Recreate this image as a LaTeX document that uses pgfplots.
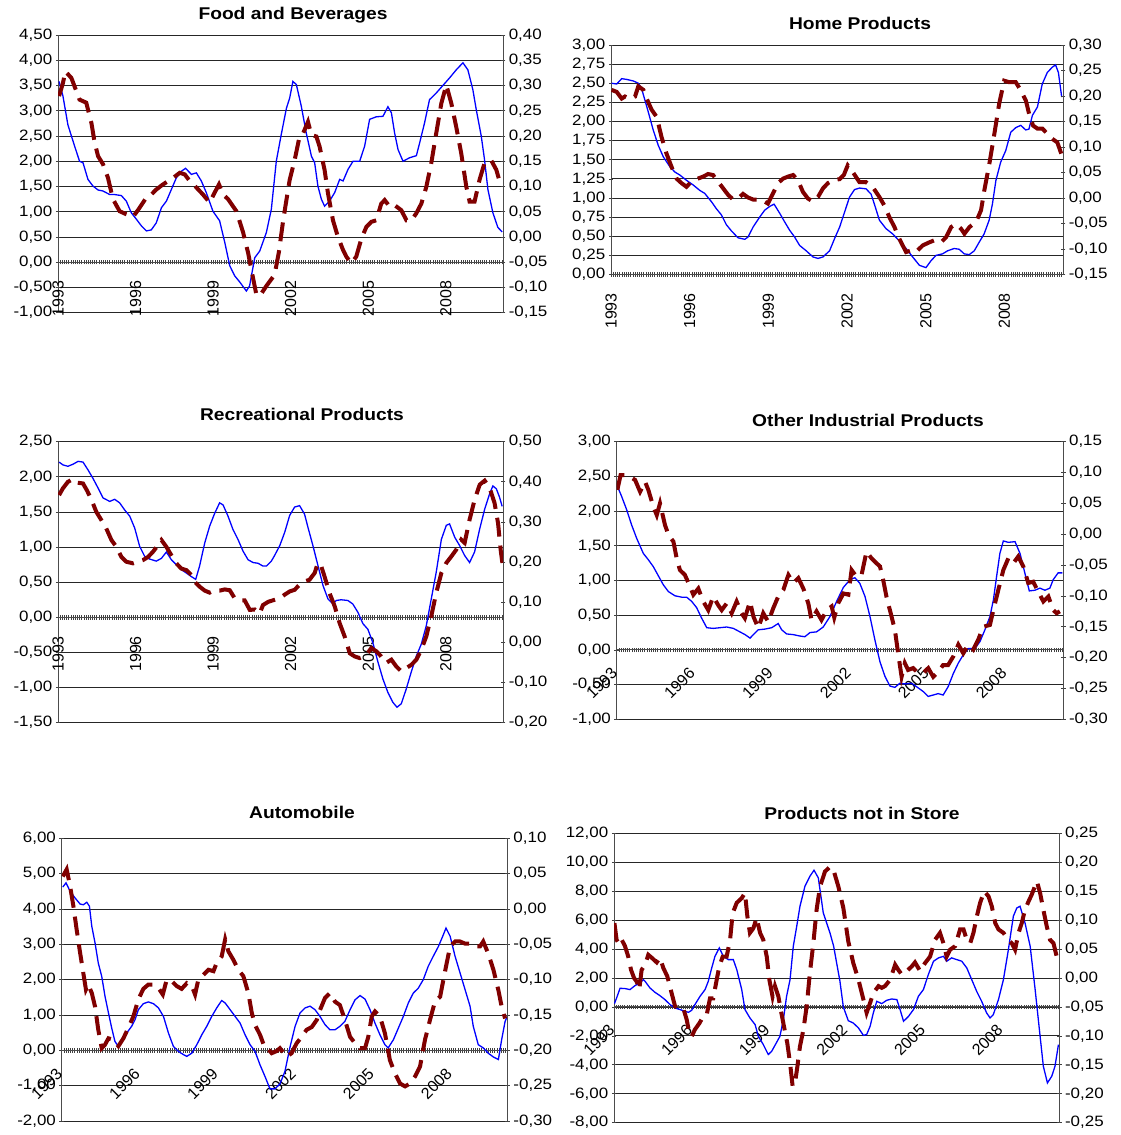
\documentclass[border=0pt]{standalone}
\usepackage{fontspec}
\setmainfont{Liberation Sans}[FakeStretch=1.13]
\newfontfamily\xlabfamily{Liberation Sans}
\usepackage{pgfplots}
\pgfplotsset{compat=1.18}
\definecolor{serblue}{RGB}{0,0,255}
\definecolor{serred}{RGB}{128,0,0}
\newcommand\ticklab{\fontsize{15}{17}\selectfont}
\newcommand\xlab{\xlabfamily\fontsize{16}{18}\selectfont}
\newcommand\ttl{\fontsize{17}{20}\selectfont\bfseries}
\pgfplotsset{
  base/.style={
    scale only axis, anchor=south west,
    /pgf/number format/.cd, fixed, fixed zerofill, precision=2, use comma, assume math mode=true, /pgfplots/.cd,
    tick align=outside, major tick length=4.5pt, minor tick length=4.5pt,
    tick style={black!75, line width=0.7pt},
    yticklabel style={font=\ticklab},
    axis line style={black!70, line width=1pt},
  },
  lefta/.style={
    base,
    axis y line=left, axis x line=middle,
    hide obscured x ticks=false, hide obscured y ticks=false,
    ymajorgrids, major grid style={black!85, line width=0.9pt},
    xtick={0,36,72,108,144,180}, xticklabels={1993,1996,1999,2002,2005,2008},
    minor xtick={0,1,...,206},
    every inner x axis line/.append style={-},
    every outer y axis line/.append style={-},
    x axis line style={-}, y axis line style={-},
  },
  righta/.style={
    base,
    axis y line=right, axis x line=none, xtick=\empty,
    every outer y axis line/.append style={-},
    y axis line style={-},
  },
  vlab/.style={xticklabel shift=13pt, xticklabel style={font=\xlab, rotate=90, anchor=east}},
  dlab/.style={xticklabel shift=16pt, xticklabel style={font=\xlab, rotate=45, anchor=east}},
  blueline/.style={serblue, line width=1.3pt, no markers},
  redline/.style={serred, line width=4pt, dash pattern=on 19pt off 9pt, no markers},
}
\begin{document}
\begin{tikzpicture}
\useasboundingbox (0,0) rectangle (1121pt,-1135pt);
% ---------------- Panel 1: Food and Beverages
\begin{axis}[lefta, vlab, at={(58pt,-312.7pt)}, width=445pt, height=277.7pt,
  xmin=0, xmax=206.5, ymin=-1, ymax=4.5, ytick={-1,-0.5,...,4.5}]
\addplot[blueline] coordinates {(0.5,3.58) (2.3,3.29) (4.6,2.72) (7.7,2.30) (10,2.00) (11.6,1.97) (13.9,1.64) (16.2,1.51) (18.6,1.43) (20.9,1.41) (24,1.34) (26.3,1.34) (29.4,1.32) (31.7,1.21) (34,0.98) (36.4,0.85) (38.7,0.72) (41,0.62) (43.3,0.64) (45.6,0.78) (48,1.08) (50.3,1.21) (52.6,1.44) (54.9,1.67) (57.2,1.80) (59.2,1.86) (61.9,1.74) (64.2,1.77) (66.5,1.61) (68.8,1.38) (71.9,1.01) (75,0.82) (77.4,0.39) (79.7,-0.07) (82,-0.27) (84.3,-0.39) (87.4,-0.57) (88.9,-0.47) (91.3,0.09) (93.6,0.22) (96.7,0.59) (99,1.05) (101.3,2.0) (103.6,2.53) (106,3.05) (107.5,3.25) (109,3.58) (110.6,3.52) (112.9,3.09) (115.2,2.56) (117.6,2.10) (119.1,1.97) (120.6,1.51) (122.2,1.25) (123.7,1.11) (126,1.21) (128.4,1.38) (130.7,1.64) (132.3,1.61) (134.6,1.84) (136.9,2.00) (140,2.00) (142.3,2.30) (144.6,2.83) (147.7,2.88) (150.8,2.89) (153.1,3.08) (154.7,2.96) (156.2,2.56) (157.8,2.23) (160.1,2.00) (163.2,2.07) (166.3,2.11) (167.8,2.36) (170.1,2.76) (172.4,3.22) (175.5,3.35) (178.6,3.50) (181.7,3.65) (184.8,3.81) (187.9,3.95) (190.2,3.81) (192.5,3.42) (194.1,3.02) (196.4,2.50) (197.9,2.04) (199.5,1.44) (201.8,0.98) (204.1,0.69) (206.1,0.60)};
\end{axis}
\begin{axis}[righta, at={(58pt,-312.7pt)}, width=445pt, height=277.7pt,
  xmin=0, xmax=206.5, ymin=-0.15, ymax=0.40, ytick={-0.15,-0.1,-0.05,0,0.05,0.1,0.15,0.2,0.25,0.3,0.35,0.4}]
\addplot[redline] coordinates {(0.5,0.279) (2.3,0.305) (3.4,0.328) (6.2,0.315) (8.5,0.289) (10,0.272) (13.1,0.266) (15.5,0.226) (17,0.187) (18.6,0.160) (20.9,0.144) (23.2,0.117) (25.5,0.075) (28.6,0.051) (31.7,0.045) (34.8,0.040) (37.1,0.053) (41,0.078) (43.3,0.084) (45.6,0.094) (48.7,0.104) (53.4,0.117) (56.5,0.127) (58.8,0.124) (61.1,0.111) (64.2,0.098) (67.3,0.084) (70.4,0.068) (72.7,0.088) (74.7,0.104) (76.6,0.084) (78.9,0.075) (82.8,0.051) (85.9,0.009) (88.2,-0.031) (89.7,-0.064) (92,-0.113) (93.6,-0.117) (96.7,-0.097) (100.5,-0.075) (102.5,-0.03) (104.4,0.03) (105.5,0.06) (107.5,0.113) (109.8,0.152) (112.1,0.199) (113.7,0.205) (116,0.228) (117.6,0.202) (119.9,0.199) (121.4,0.179) (123.7,0.133) (125.3,0.086) (127.6,0.033) (129.9,0.000) (132.3,-0.026) (133.8,-0.039) (136.1,-0.052) (138.4,-0.039) (140.8,-0.003) (143.1,0.020) (145.4,0.030) (147.7,0.033) (150,0.066) (151.6,0.073) (153.9,0.060) (156.2,0.063) (159.3,0.053) (161.7,0.033) (164,0.033) (166.3,0.047) (168.6,0.066) (170.9,0.099) (173.2,0.146) (175.5,0.205) (177.9,0.265) (180.2,0.301) (182.5,0.265) (184.8,0.218) (187.1,0.166) (189.5,0.099) (191,0.070) (193.3,0.070) (195.6,0.113) (197.9,0.146) (201,0.152) (203.4,0.133) (205.2,0.106)};
\end{axis}
\node[font=\ttl] at (293pt,-15pt) {Food and Beverages};
% ---------------- Panel 2: Home Products
\begin{axis}[lefta, vlab, at={(611pt,-274.5pt)}, width=452pt, height=229.5pt,
  xmin=0, xmax=206.8, ymin=0, ymax=3, ytick={0,0.25,...,3}]
\addplot[blueline] coordinates {(0.3,2.50) (2.6,2.49) (4.9,2.56) (7.2,2.55) (10.2,2.53) (12.5,2.50) (14,2.43) (15.5,2.28) (17,2.13) (19.3,1.89) (21.6,1.69) (23.9,1.54) (26.9,1.41) (29.2,1.34) (31.5,1.30) (34.6,1.23) (37.6,1.17) (40.6,1.10) (42.9,1.06) (46,0.95) (48.2,0.86) (50.5,0.78) (52.8,0.65) (55.1,0.57) (58.1,0.48) (61.2,0.46) (62.7,0.49) (65,0.62) (68,0.75) (70.3,0.84) (72.6,0.89) (74.6,0.92) (77.2,0.80) (79.4,0.69) (81.7,0.58) (84,0.49) (86.3,0.38) (89.3,0.31) (92.4,0.23) (94.7,0.21) (97,0.23) (100,0.31) (102.3,0.47) (104.6,0.62) (106.8,0.81) (109.1,1.01) (111.4,1.11) (113.7,1.13) (116.7,1.12) (119,1.05) (120.5,0.92) (122.8,0.71) (125.8,0.60) (128.9,0.53) (131.9,0.44) (135,0.34) (138,0.23) (141.1,0.12) (144.1,0.09) (146.4,0.18) (148.7,0.25) (151.7,0.27) (154,0.31) (157,0.34) (159.3,0.33) (161.6,0.27) (163.9,0.26) (166.2,0.31) (168.4,0.42) (170.7,0.53) (173,0.71) (174.5,0.92) (176.1,1.23) (178.3,1.47) (180.6,1.62) (182.9,1.86) (185.2,1.92) (187.5,1.95) (189.7,1.89) (191.2,1.90) (192.8,2.08) (195.1,2.19) (197.3,2.49) (199.6,2.64) (201.9,2.71) (203.4,2.74) (204.7,2.64) (206.2,2.32)};
\end{axis}
\begin{axis}[righta, at={(611pt,-274.5pt)}, width=452pt, height=229.5pt,
  xmin=0, xmax=206.8, ymin=-0.15, ymax=0.30, ytick={-0.15,-0.1,-0.05,0,0.05,0.1,0.15,0.2,0.25,0.3}]
\addplot[redline] coordinates {(0.3,0.212) (2.6,0.208) (4.9,0.195) (6.4,0.199) (8.7,0.194) (11,0.199) (12.5,0.219) (14.8,0.212) (16.3,0.195) (18.6,0.173) (20.9,0.159) (23.1,0.120) (25.4,0.087) (27.7,0.061) (30,0.038) (32.3,0.029) (34.5,0.022) (36.8,0.032) (39.1,0.037) (42.2,0.042) (44.4,0.047) (46.7,0.045) (49,0.032) (51.3,0.019) (53.6,0.006) (55.9,-0.003) (58.1,-0.001) (60.4,0.008) (62.7,0.001) (65,-0.003) (68,-0.003) (70.3,-0.007) (71.8,-0.011) (74.1,0.009) (76.4,0.029) (78.7,0.038) (81,0.042) (83.3,0.045) (85.5,0.035) (87.8,0.012) (90.1,-0.001) (92.4,-0.007) (94.7,0.002) (97,0.019) (99.2,0.029) (101.5,0.035) (104.6,0.037) (106.5,0.045) (108.3,0.064) (110.6,0.051) (113.7,0.031) (116.7,0.031) (119.8,0.021) (122.8,0.002) (125.1,-0.015) (127.4,-0.038) (129.7,-0.057) (131.9,-0.080) (135,-0.106) (137.3,-0.103) (139.5,-0.106) (142.6,-0.093) (145.6,-0.087) (147.9,-0.083) (151,-0.087) (153.3,-0.077) (155.6,-0.057) (157.8,-0.051) (160.1,-0.060) (161.7,-0.070) (164,-0.057) (167,-0.047) (169.3,-0.024) (170.8,0.015) (173.1,0.067) (175.4,0.126) (177.6,0.185) (179.9,0.230) (182.2,0.227) (185.2,0.227) (187.5,0.211) (189.8,0.191) (191.3,0.165) (193.1,0.142) (195.1,0.136) (197.4,0.136) (199.6,0.126) (201.9,0.116) (204.2,0.109) (206,0.087)};
\end{axis}
\node[font=\ttl] at (860pt,-23pt) {Home Products};
% ---------------- Panel 3: Recreational Products
\begin{axis}[lefta, vlab, at={(58pt,-722.7pt)}, width=445pt, height=281pt,
  xmin=0, xmax=206.5, ymin=-1.5, ymax=2.5, ytick={-1.5,-1,...,2.5}]
\addplot[blueline] coordinates {(0.5,2.21) (2.3,2.17) (4.6,2.15) (7,2.18) (9.3,2.22) (11.6,2.21) (13.9,2.10) (16.2,1.98) (18.6,1.84) (20.9,1.70) (24,1.65) (26.3,1.68) (28.6,1.63) (30.9,1.53) (33.3,1.44) (35.6,1.27) (37.9,1.01) (40.2,0.87) (42.5,0.83) (45.6,0.80) (48,0.84) (50.3,0.93) (52.6,0.82) (54.9,0.75) (57.2,0.68) (59.6,0.63) (61.9,0.58) (63.9,0.54) (65.7,0.73) (68.1,1.06) (70.4,1.30) (72.7,1.48) (75,1.63) (76.6,1.60) (78.9,1.44) (81.2,1.25) (83.5,1.11) (85.9,0.94) (88.2,0.82) (90.5,0.78) (92.8,0.77) (95.1,0.73) (96.7,0.73) (99,0.80) (100.5,0.88) (102.9,1.02) (105.2,1.21) (107.5,1.45) (109.8,1.57) (112.1,1.59) (114.4,1.47) (116,1.28) (118.3,1.02) (120.6,0.74) (123,0.45) (125.3,0.26) (127.6,0.19) (129.1,0.24) (131.4,0.25) (134.5,0.24) (136.8,0.19) (139.2,0.07) (141.5,-0.09) (143.8,-0.17) (146.1,-0.36) (148.5,-0.64) (150.8,-0.88) (153.1,-1.07) (155.4,-1.21) (157.3,-1.28) (159.3,-1.23) (161.6,-1.02) (163.9,-0.78) (166.3,-0.55) (168.6,-0.38) (170.9,-0.12) (173.2,0.26) (175.5,0.64) (177.9,1.11) (180.2,1.31) (181.7,1.33) (184.1,1.14) (186.4,1.02) (188.7,0.88) (191,0.78) (193.3,0.93) (195.7,1.26) (198,1.54) (200.3,1.76) (201.8,1.87) (203.4,1.83) (204.9,1.71) (206.1,1.58)};
\end{axis}
\begin{axis}[righta, at={(58pt,-722.7pt)}, width=445pt, height=281pt,
  xmin=0, xmax=206.5, ymin=-0.2, ymax=0.5, ytick={-0.2,-0.1,0,0.1,0.2,0.3,0.4,0.5}]
\addplot[redline] coordinates {(0.5,0.367) (2.3,0.384) (4.6,0.400) (7,0.407) (8.8,0.398) (11.6,0.396) (13.5,0.378) (15.5,0.356) (17.8,0.325) (20.1,0.305) (22.4,0.284) (24.8,0.255) (27.1,0.238) (29.4,0.213) (31.7,0.201) (34.8,0.197) (37.1,0.201) (39.4,0.205) (41.8,0.213) (44.1,0.226) (46.4,0.242) (48,0.255) (50.3,0.238) (52.6,0.217) (54.9,0.197) (57.2,0.184) (59.6,0.180) (61.9,0.168) (63.4,0.151) (65.7,0.139) (68.1,0.129) (70.4,0.124) (72.7,0.130) (75,0.129) (77.4,0.132) (79.7,0.130) (82,0.110) (84.3,0.105) (86.6,0.105) (89,0.081) (91.3,0.082) (93.6,0.072) (95.1,0.093) (97.5,0.101) (99.8,0.105) (102.9,0.110) (105.2,0.119) (107.5,0.127) (109.8,0.131) (112.1,0.144) (114.4,0.152) (116.7,0.156) (119.1,0.173) (120.6,0.198) (122.2,0.189) (123.7,0.164) (126,0.123) (128.4,0.090) (130.7,0.048) (133,0.015) (135.4,-0.027) (137.7,-0.035) (140,-0.039) (143.1,-0.031) (145.4,-0.014) (147.7,-0.022) (150,-0.035) (152.3,-0.051) (154.7,-0.043) (157,-0.060) (159.3,-0.072) (161.6,-0.064) (163.9,-0.056) (166.3,-0.043) (168.6,-0.018) (170.9,0.015) (173.2,0.065) (175.5,0.123) (177.9,0.173) (180.2,0.198) (182.5,0.214) (184.8,0.231) (187.1,0.256) (188.7,0.248) (191,0.306) (193.3,0.355) (195.7,0.393) (198,0.403) (200.3,0.385) (202.6,0.347) (204.2,0.297) (205.4,0.231) (206.2,0.198)};
\end{axis}
\node[font=\ttl] at (302pt,-414pt) {Recreational Products};
% ---------------- Panel 4: Other Industrial Products
\begin{axis}[lefta, dlab, at={(616.7pt,-719.3pt)}, width=446.6pt, height=277.6pt,
  xmin=0, xmax=206.3, ymin=-1, ymax=3, ytick={-1,-0.5,...,3}]
\addplot[blueline] coordinates {(0.3,2.36) (2.3,2.21) (4.6,2.02) (6.9,1.80) (9.2,1.61) (12.3,1.39) (14.6,1.30) (16.9,1.20) (19.2,1.07) (21.5,0.94) (23.9,0.84) (26.9,0.78) (30,0.76) (32.3,0.76) (34.6,0.70) (36.9,0.61) (39.2,0.46) (41.6,0.32) (44.6,0.31) (47.7,0.32) (50.8,0.33) (53.9,0.31) (56.9,0.26) (59.3,0.22) (61.6,0.17) (63.1,0.22) (65.4,0.29) (68.5,0.30) (71.6,0.32) (74.6,0.38) (76.2,0.29) (78.5,0.23) (81.6,0.22) (84.6,0.20) (86.9,0.19) (89.3,0.25) (92.3,0.26) (95.4,0.33) (98.5,0.48) (101.6,0.70) (104.7,0.90) (107.7,1.01) (110,1.04) (112.3,0.96) (114.7,0.77) (117,0.48) (119.3,0.14) (121.6,-0.17) (123.9,-0.38) (126.2,-0.52) (128.5,-0.54) (130.8,-0.48) (133.1,-0.49) (136.2,-0.48) (138.5,-0.53) (141.6,-0.60) (143.9,-0.67) (146.2,-0.65) (148.5,-0.63) (150.8,-0.65) (153.1,-0.53) (155.5,-0.34) (157.8,-0.19) (160.1,-0.07) (162.4,0.02) (165.5,0.02) (167.8,0.12) (170.1,0.29) (172.4,0.48) (174,0.72) (175.5,1.06) (177,1.39) (178.6,1.57) (180.9,1.55) (184,1.56) (186.3,1.39) (188.6,1.10) (190.6,0.85) (193.2,0.86) (195.5,0.89) (197.8,0.86) (200.1,0.89) (201.6,1.01) (203.9,1.11) (205.9,1.11)};
\end{axis}
\begin{axis}[righta, at={(616.7pt,-719.3pt)}, width=446.6pt, height=277.6pt,
  xmin=0, xmax=206.3, ymin=-0.30, ymax=0.15, ytick={-0.3,-0.25,-0.2,-0.15,-0.1,-0.05,0,0.05,0.1,0.15}]
\addplot[redline] coordinates {(0.3,0.072) (1.8,0.096) (3.8,0.096) (6.2,0.093) (8.5,0.088) (10.8,0.069) (13.1,0.085) (14.6,0.072) (16.9,0.045) (18.5,0.031) (20,0.050) (22.3,0.015) (23.9,-0.001) (26.2,-0.012) (27.7,-0.039) (29.2,-0.058) (31.5,-0.066) (33.9,-0.085) (35.4,-0.098) (37.7,-0.088) (40,-0.109) (42.3,-0.123) (44.6,-0.101) (46.9,-0.115) (48.5,-0.123) (50.8,-0.112) (53.1,-0.128) (55.4,-0.109) (57.7,-0.128) (59.2,-0.136) (61.6,-0.109) (63.1,-0.133) (65.4,-0.152) (67.7,-0.128) (70,-0.142) (72.3,-0.120) (74.6,-0.101) (77,-0.090) (79.3,-0.066) (81.6,-0.079) (83.9,-0.071) (86.2,-0.088) (88.5,-0.112) (90,-0.139) (92.3,-0.125) (94.6,-0.139) (97,-0.123) (99.3,-0.117) (100.5,-0.135) (102.3,-0.112) (104.7,-0.096) (107,-0.098) (108.5,-0.058) (110.8,-0.069) (113.1,-0.066) (115.4,-0.028) (117.7,-0.039) (120,-0.047) (121.6,-0.052) (123.1,-0.074) (124.6,-0.101) (126.2,-0.123) (128.5,-0.155) (130,-0.193) (131.6,-0.231) (133.1,-0.209) (134.6,-0.220) (136.9,-0.217) (139.3,-0.225) (141.6,-0.225) (143.9,-0.217) (146.2,-0.231) (148.5,-0.223) (150.8,-0.212) (153.1,-0.212) (155.5,-0.198) (157.8,-0.179) (160.1,-0.193) (162.4,-0.179) (164.7,-0.187) (167,-0.171) (169.3,-0.150) (172.4,-0.147) (174,-0.123) (176.3,-0.090) (178.6,-0.058) (180.9,-0.039) (183.2,-0.047) (185.5,-0.036) (187.8,-0.052) (190.1,-0.079) (192.4,-0.077) (194.7,-0.093) (197.1,-0.109) (199.4,-0.101) (201.7,-0.123) (203.2,-0.128) (204.7,-0.125)};
\end{axis}
\node[font=\ttl] at (868pt,-420pt) {Other Industrial Products};
% ---------------- Panel 5: Automobile
\begin{scope}
\clip (0pt,-790pt) rectangle (556pt,-1135pt);
\begin{axis}[lefta, dlab, at={(61.7pt,-1121pt)}, width=446pt, height=282.7pt,
  xmin=0, xmax=206, ymin=-2, ymax=6, ytick={-2,-1,...,6}]
\addplot[blueline] coordinates {(0.5,4.62) (2,4.74) (3.9,4.50) (6.2,4.31) (8.5,4.14) (10,4.12) (11.6,4.19) (12.8,4.08) (13.9,3.51) (15.4,3.04) (16.9,2.47) (18.5,2.09) (20,1.53) (21.6,1.06) (23.1,0.63) (24.6,0.25) (26.2,0.11) (27.7,0.30) (30,0.49) (32.3,0.68) (33.9,0.87) (35.4,1.15) (37.7,1.32) (40,1.37) (42.4,1.32) (44.7,1.20) (47,0.96) (49.3,0.49) (51.6,0.11) (53.9,-0.03) (56.2,-0.12) (57.8,-0.17) (60.1,-0.08) (62.4,0.16) (64.7,0.44) (67,0.68) (69.3,0.96) (71.6,1.20) (73.9,1.41) (75.5,1.34) (77.8,1.15) (80.1,0.96) (82.4,0.77) (84.7,0.44) (87,0.16) (89.3,-0.03) (91.6,-0.41) (93.9,-0.74) (96.2,-1.09) (98.5,-1.09) (100.8,-0.95) (103.1,-0.60) (105.4,0.08) (107.8,0.68) (110.1,1.06) (112.4,1.20) (114.7,1.25) (117,1.15) (119.3,0.96) (121.6,0.73) (123.9,0.58) (126.2,0.58) (128.5,0.68) (130.8,0.82) (133.2,1.15) (135.5,1.43) (137.8,1.55) (140.1,1.45) (142.4,1.15) (144.7,0.77) (147,0.44) (149.3,0.16) (150.8,0.07) (153.2,0.30) (155.5,0.63) (157.8,0.96) (160.1,1.34) (162.4,1.62) (164.7,1.76) (167,2.00) (169.3,2.38) (171.6,2.66) (174,2.94) (176,3.23) (177.5,3.46) (179.4,3.23) (181.7,2.66) (184,2.19) (186.3,1.72) (188.6,1.25) (190.1,0.68) (192.4,0.16) (194.7,0.07) (197,-0.08) (199.4,-0.19) (201.7,-0.26) (203.2,0.30) (204.8,0.82) (205.8,0.96)};
\end{axis}
\begin{axis}[righta, at={(61.7pt,-1121pt)}, width=446pt, height=282.7pt,
  xmin=0, xmax=206, ymin=-0.30, ymax=0.10, ytick={-0.3,-0.25,-0.2,-0.15,-0.1,-0.05,0,0.05,0.1}]
\addplot[redline] coordinates {(0.5,0.046) (2.3,0.056) (3.9,0.032) (5.4,0.004) (6.9,-0.029) (8.5,-0.062) (10,-0.091) (11.2,-0.114) (12.3,-0.107) (13.9,-0.119) (15.4,-0.138) (16.9,-0.171) (18.5,-0.197) (20,-0.192) (21.6,-0.183) (23.9,-0.185) (26.2,-0.194) (28.5,-0.183) (30.8,-0.168) (33.1,-0.152) (35.4,-0.128) (37.7,-0.113) (40,-0.107) (42.4,-0.107) (44.7,-0.112) (46.7,-0.121) (48.5,-0.100) (50.8,-0.102) (53.1,-0.109) (55.4,-0.113) (57.8,-0.105) (60.1,-0.109) (61.6,-0.121) (63.1,-0.100) (65.5,-0.093) (67.8,-0.086) (70.1,-0.088) (71.6,-0.076) (73.9,-0.067) (75.5,-0.043) (77,-0.060) (79.3,-0.072) (81.6,-0.086) (83.9,-0.095) (86.2,-0.119) (87.8,-0.147) (89.3,-0.164) (91.6,-0.178) (93.9,-0.197) (95.5,-0.199) (97,-0.204) (99.3,-0.201) (100.8,-0.197) (103.9,-0.209) (106.2,-0.204) (108.5,-0.190) (110.8,-0.181) (113.1,-0.171) (115.5,-0.167) (117.8,-0.157) (119.3,-0.143) (121.6,-0.126) (123.9,-0.119) (126.2,-0.131) (128.5,-0.136) (130.8,-0.157) (133.2,-0.181) (135.5,-0.190) (137.8,-0.197) (140.1,-0.197) (141.6,-0.181) (143.2,-0.152) (144.7,-0.145) (147,-0.152) (149.3,-0.176) (151.6,-0.214) (154,-0.233) (156.3,-0.247) (158.6,-0.251) (160.9,-0.247) (163.2,-0.237) (165.5,-0.223) (167.8,-0.185) (170.1,-0.157) (172.4,-0.131) (174.8,-0.124) (176.3,-0.100) (177.8,-0.077) (179.4,-0.053) (181.7,-0.046) (184,-0.046) (186.3,-0.049) (188.6,-0.049) (190.9,-0.053) (193.2,-0.053) (194.7,-0.046) (197,-0.063) (199.4,-0.086) (201.7,-0.115) (203.2,-0.138) (204.8,-0.155)};
\end{axis}
\end{scope}
\node[font=\ttl] at (302pt,-812pt) {Automobile};
% ---------------- Panel 6: Products not in Store
\begin{axis}[lefta, dlab, at={(614pt,-1122.7pt)}, width=445.3pt, height=289.4pt,
  xmin=0, xmax=206.4, ymin=-8, ymax=12, ytick={-8,-6,...,12}]
\addplot[blueline] coordinates {(0.2,0.23) (1.2,0.62) (2.8,1.29) (5.1,1.27) (7.4,1.20) (9.7,1.47) (12.1,1.66) (13.6,1.89) (14.4,1.77) (16.7,1.31) (19,1.01) (21.3,0.78) (23.6,0.51) (26,0.16) (28.3,-0.07) (30.6,-0.18) (32.9,-0.30) (34.5,-0.37) (36,-0.23) (37.5,0.16) (39.9,0.74) (42.2,1.20) (43.7,1.77) (45.3,2.70) (46.8,3.50) (48.8,4.08) (50.7,3.50) (53,3.27) (55.3,3.27) (56.9,2.58) (59.2,1.20) (60.7,-0.18) (63,-0.76) (65.4,-1.22) (66.9,-2.03) (69.2,-2.60) (71.5,-3.29) (73.1,-3.06) (75.4,-2.44) (76.9,-2.03) (78.5,-0.88) (80,0.74) (81.6,1.89) (83.1,4.19) (84.7,5.58) (86.2,6.96) (88.5,8.34) (90.8,9.03) (92.7,9.45) (94.7,8.92) (97,6.50) (100.1,5.12) (101.8,4.2) (103,3.2) (104.7,1.8) (106.3,0.0) (108.6,-0.95) (110.9,-1.11) (113.3,-1.45) (115.6,-1.96) (117.1,-1.91) (118.7,-1.34) (120.2,-0.41) (121.8,0.39) (124.1,0.23) (126.4,0.46) (128.7,0.55) (131.1,0.51) (132.6,-0.18) (134.2,-0.99) (136.5,-0.65) (138.8,-0.18) (141.1,0.74) (143.4,1.20) (145.7,2.24) (148.1,3.16) (150.4,3.39) (152.7,3.50) (154.2,3.16) (156.5,3.39) (158.9,3.27) (161.2,3.16) (163.5,2.70) (165.8,1.89) (168.1,1.08) (170.4,0.39) (172.7,-0.41) (174.3,-0.76) (175.8,-0.53) (178.2,0.51) (180.5,1.89) (182.8,3.96) (185.1,6.27) (186.7,6.84) (188.2,6.96) (190.5,5.81) (192.9,4.19) (195.2,1.20) (197.5,-2.03) (199,-4.10) (200.9,-5.25) (202.9,-4.79) (204.4,-4.10) (206,-2.60)};
\end{axis}
\begin{axis}[righta, at={(614pt,-1122.7pt)}, width=445.3pt, height=289.4pt,
  xmin=0, xmax=206.4, ymin=-0.25, ymax=0.25, ytick={-0.25,-0.2,-0.15,-0.1,-0.05,0,0.05,0.1,0.15,0.2,0.25}]
\addplot[redline] coordinates {(0.2,0.095) (1.2,0.066) (2.5,0.058) (3.6,0.066) (5.1,0.055) (6.6,0.037) (7.9,0.014) (9.3,0.000) (10.5,-0.006) (11.7,-0.020) (12.8,0.014) (14.4,0.023) (15.9,0.040) (17.5,0.035) (19.8,0.027) (21.3,0.035) (22.9,0.017) (24.7,0.003) (26.7,-0.026) (28.3,-0.049) (29.8,-0.052) (32.1,-0.052) (33.7,-0.072) (34.9,-0.095) (36,-0.101) (37.5,-0.089) (39.6,-0.078) (41.4,-0.066) (43,-0.063) (44.5,-0.035) (46,-0.035) (47.6,-0.003) (48.8,0.020) (50.4,0.037) (52.2,0.037) (53.8,0.066) (55,0.112) (56.9,0.130) (59.2,0.138) (60.7,0.147) (61.8,0.107) (63,0.078) (64.6,0.086) (66.1,0.104) (67.7,0.078) (69.2,0.066) (70.8,0.037) (72,-0.003) (73.5,-0.032) (74.6,-0.014) (76.2,-0.032) (77.3,-0.055) (78.8,-0.084) (80.3,-0.112) (81.6,-0.147) (82.8,-0.187) (83.9,-0.181) (85,-0.153) (86.2,-0.118) (87.8,-0.089) (89.3,-0.049) (90.8,0.009) (92.4,0.060) (93.9,0.118) (95.5,0.158) (97.8,0.184) (100.1,0.192) (101.7,0.187) (104,0.158) (106.3,0.121) (108.6,0.063) (110.9,0.026) (113.3,-0.003) (115.6,-0.037) (117.1,-0.060) (118.7,-0.043) (120.2,-0.026) (122.6,-0.014) (124.1,-0.017) (125.6,-0.014) (128,-0.003) (130.3,0.023) (131.8,0.014) (133.4,0.006) (135.7,0.012) (138,0.020) (139.5,0.027) (141.9,0.012) (144.2,0.026) (146.5,0.037) (148.8,0.066) (151.1,0.078) (152.7,0.060) (154.2,0.037) (155.8,0.049) (158.1,0.055) (160.4,0.084) (162,0.084) (163.5,0.066) (165.1,0.060) (166.6,0.078) (168.2,0.107) (169.7,0.130) (171.6,0.150) (173.6,0.141) (175.1,0.124) (176.7,0.095) (178.2,0.084) (180.5,0.078) (182.8,0.066) (184.4,0.060) (185.9,0.049) (187.5,0.078) (189,0.095) (190.5,0.118) (192.1,0.132) (193.6,0.144) (196,0.167) (197.5,0.147) (199,0.118) (200.6,0.089) (202.1,0.066) (203.7,0.060) (205.2,0.037) (206.1,0.026)};
\end{axis}
\node[font=\ttl] at (862pt,-813pt) {Products not in Store};
\end{tikzpicture}
\end{document}
